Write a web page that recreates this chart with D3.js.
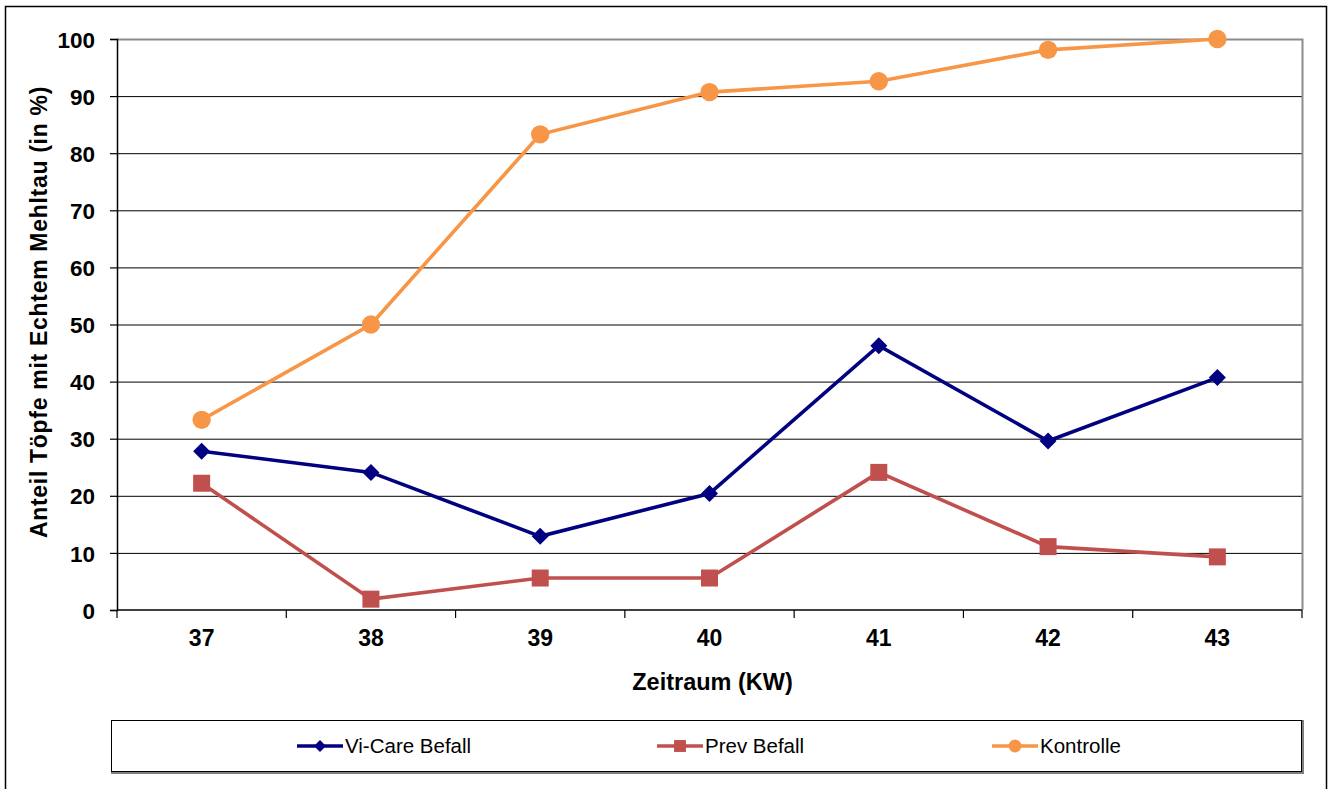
<!DOCTYPE html>
<html>
<head>
<meta charset="utf-8">
<script src="https://cdn.jsdelivr.net/npm/d3@7"></script>
<style>
  body { margin: 0; background: #fff; }
  svg { font-family: "Liberation Sans", Arial, sans-serif; }
</style>
</head>
<body>
<div id="chart"></div>
<script>
// Kalenderwochen
const weeks = ["37", "38", "39", "40", "41", "42", "43"];
const viCare = [27.8, 24.1, 12.9, 20.4, 46.3, 29.6, 40.7];
const prev = [22.2, 1.9, 5.6, 5.6, 24.1, 11.1, 9.3];
const kontrolle = [33.3, 50, 83.3, 90.7, 92.6, 98.1, 100];
const yTicks = [0, 10, 20, 30, 40, 50, 60, 70, 80, 90, 100];

const series = [
    { name: "Vi-Care Befall", values: viCare, color: "#000080", marker: "diamond" },
    { name: "Prev Befall", values: prev, color: "#c0504d", marker: "square" },
    { name: "Kontrolle", values: kontrolle, color: "#f79646", marker: "circle" }
];

const width = 1333, height = 789;
const plot = { left: 117, right: 1302, top: 39, bottom: 610 };

const svg = d3.select("#chart").append("svg")
    .attr("width", width)
    .attr("height", height);

// outer frame
svg.append("rect")
    .attr("x", 5.5).attr("y", 6.5)
    .attr("width", 1321).attr("height", 790)
    .attr("fill", "#fff")
    .attr("stroke", "#000")
    .attr("stroke-width", 1.5);

const x = d3.scaleBand().domain(weeks).range([plot.left, plot.right]);
const y = d3.scaleLinear().domain([0, 100]).range([plot.bottom, plot.top]);

// gridlines
svg.append("g")
    .selectAll("line")
    .data(yTicks.filter(d => d > 0 && d < 100))
    .join("line")
    .attr("x1", plot.left).attr("x2", plot.right)
    .attr("y1", d => y(d) + 0.5).attr("y2", d => y(d) + 0.5)
    .attr("stroke", "#000")
    .attr("stroke-width", 1);

// plot frame (top & right gray)
svg.append("path")
    .attr("d", `M${plot.left},${plot.top + 0.5}H${plot.right + 0.5}V${plot.bottom}`)
    .attr("fill", "none")
    .attr("stroke", "#8c8c8c")
    .attr("stroke-width", 2);

// y axis
const yAxis = svg.append("g")
    .attr("transform", `translate(${plot.left},0)`)
    .call(d3.axisLeft(y).tickValues(yTicks).tickSize(7).tickPadding(15));
yAxis.select(".domain").attr("stroke", "#000").attr("stroke-width", 1.5);
yAxis.selectAll(".tick line").attr("stroke", "#000").attr("stroke-width", 1.2);
yAxis.selectAll("text")
    .attr("font-size", 22.5).attr("font-weight", "bold").attr("fill", "#000")
    .attr("dy", "0.36em")
    .attr("font-family", "Liberation Sans, Arial, sans-serif");

// x axis with ticks between categories
const xAxis = svg.append("g")
    .attr("transform", `translate(0,${plot.bottom})`);
xAxis.append("line")
    .attr("x1", plot.left).attr("x2", plot.right)
    .attr("stroke", "#000").attr("stroke-width", 1.5);
const bounds = weeks.map(w => x(w)).concat([plot.right]);
xAxis.selectAll(".xtick")
    .data(bounds)
    .join("line")
    .attr("class", "xtick")
    .attr("x1", d => d).attr("x2", d => d)
    .attr("y1", 0).attr("y2", 8)
    .attr("stroke", "#000").attr("stroke-width", 1.2);
xAxis.selectAll("text")
    .data(weeks)
    .join("text")
    .attr("x", d => x(d) + x.bandwidth() / 2)
    .attr("y", 36)
    .attr("text-anchor", "middle")
    .attr("font-size", 23).attr("font-weight", "bold")
    .text(d => d);

// axis titles
svg.append("text")
    .attr("x", (plot.left + plot.right) / 2 + 3)
    .attr("y", 690)
    .attr("text-anchor", "middle")
    .attr("font-size", 23.5).attr("font-weight", "bold")
    .text("Zeitraum (KW)");

svg.append("text")
    .attr("transform", `translate(47,312) rotate(-90)`)
    .attr("text-anchor", "middle")
    .attr("font-size", 23).attr("font-weight", "bold")
    .attr("letter-spacing", 0.7)
    .text("Anteil Töpfe mit Echtem Mehltau (in %)");

function drawMarker(g, type, color, size) {
    if (type === "diamond") {
        const s = size * 0.85;
        g.append("path").attr("d", `M0,${-s}L${s},0L0,${s}L${-s},0Z`).attr("fill", color);
    } else if (type === "square") {
        g.append("rect").attr("x", -size * 0.85).attr("y", -size * 0.85)
            .attr("width", size * 1.7).attr("height", size * 1.7).attr("fill", color);
    } else {
        g.append("circle").attr("r", size * 0.92).attr("fill", color);
    }
}

const line = d3.line()
    .x((d, i) => x(weeks[i]) + x.bandwidth() / 2)
    .y(d => y(d));

series.forEach(s => {
    svg.append("path")
        .datum(s.values)
        .attr("d", line)
        .attr("fill", "none")
        .attr("stroke", s.color)
        .attr("stroke-width", 3.6);
    s.values.forEach((v, i) => {
        const g = svg.append("g")
            .attr("transform", `translate(${x(weeks[i]) + x.bandwidth() / 2},${y(v)})`);
        drawMarker(g, s.marker, s.color, 10);
    });
});

// legend
svg.append("rect")
    .attr("x", 112).attr("y", 721).attr("width", 1191).attr("height", 52)
    .attr("fill", "none").attr("stroke", "#7f7f7f").attr("stroke-width", 2);
svg.append("rect")
    .attr("x", 111.5).attr("y", 720.5).attr("width", 1190).attr("height", 51)
    .attr("fill", "#fff").attr("stroke", "#000").attr("stroke-width", 1);

const legendX = [297, 657, 992];
series.forEach((s, i) => {
    const g = svg.append("g").attr("transform", `translate(${legendX[i]},746)`);
    g.append("line").attr("x1", 0).attr("x2", 46)
        .attr("stroke", s.color).attr("stroke-width", 3.5);
    const m = g.append("g").attr("transform", "translate(23,0)");
    drawMarker(m, s.marker, s.color, 7);
    g.append("text")
        .attr("x", 48).attr("y", 7)
        .attr("font-size", 20.5)
        .attr("fill", "#000")
        .text(s.name);
});
</script>
</body>
</html>
